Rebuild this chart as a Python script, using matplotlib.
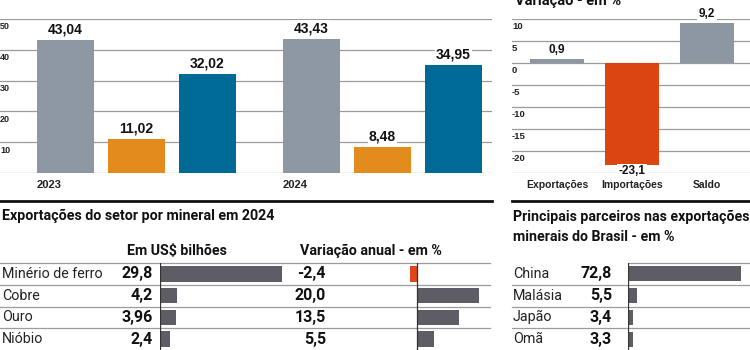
import matplotlib
matplotlib.use("Agg")
import matplotlib.pyplot as plt

# --- data ---
years = ["2023", "2024"]
exports_bi = [43.04, 43.43]
imports_bi = [11.02, 8.48]
balance_bi = [32.02, 34.95]
year_value_labels = [["43,04", "11,02", "32,02"], ["43,43", "8,48", "34,95"]]

change_cats = ["Exportações", "Importações", "Saldo"]
change_vals = [0.9, -23.1, 9.2]
change_labels = ["0,9", "-23,1", "9,2"]

minerals = ["Minério de ferro", "Cobre", "Ouro", "Nióbio"]
mineral_bi = [29.8, 4.2, 3.96, 2.4]
mineral_bi_labels = ["29,8", "4,2", "3,96", "2,4"]
mineral_var = [-2.4, 20.0, 13.5, 5.5]
mineral_var_labels = ["-2,4", "20,0", "13,5", "5,5"]

partners = ["China", "Malásia", "Japão", "Omã"]
partner_pct = [72.8, 5.5, 3.4, 3.3]
partner_labels = ["72,8", "5,5", "3,4", "3,3"]

# --- fonts ---
NARROW = ["Roboto", "DejaVu Sans"]
plt.rcParams["font.family"] = ["Liberation Sans", "DejaVu Sans"]

W, H = 750, 350
fig = plt.figure(figsize=(W / 100, H / 100), dpi=100)
fig.patch.set_facecolor("white")


def px_axes(x0, y0, x1, y1):
    # axes placed by pixel box (top-left origin)
    ax = fig.add_axes([x0 / W, 1 - y1 / H, (x1 - x0) / W, (y1 - y0) / H])
    ax.set_facecolor("none")
    for s in ax.spines.values():
        s.set_visible(False)
    ax.set_xticks([])
    ax.set_yticks([])
    return ax


GRID = "#9b9b9b"
BOX = dict(facecolor="white", edgecolor="none", pad=1.0)

# background axes in pixel coordinates for lines and texts
bg = fig.add_axes([0, 0, 1, 1], zorder=-1)
bg.set_xlim(0, W)
bg.set_ylim(H, 0)
bg.axis("off")

# ---------------- top-left: values in US$ bi ----------------
ax1 = px_axes(0, 19, 492, 173)
ax1.set_xlim(0, 492)
ax1.set_ylim(0, 50)
for t in range(0, 51, 10):
    ax1.axhline(t, color=GRID, lw=0.9, zorder=0)
    if t > 0:
        ax1.annotate(str(t), (0, t), xycoords=("axes fraction", "data"),
                     xytext=(0, -2.5), textcoords="offset points",
                     ha="left", va="top", fontsize=6.5, fontweight="bold",
                     color="#222")
colors1 = ["#8e97a4", "#e38b1d", "#006a96"]
bar_step, group_gap, first = 71, 246, 65.5
for g, yr in enumerate(years):
    vals = [exports_bi[g], imports_bi[g], balance_bi[g]]
    xs = [first + g * group_gap + i * bar_step for i in range(3)]
    ax1.bar(xs, vals, width=57, color=colors1, zorder=2)
    for x, v, lab in zip(xs, vals, year_value_labels[g]):
        ax1.annotate(lab, (x, v), xytext=(0, 2.5), textcoords="offset points",
                     ha="center", va="bottom", fontsize=10, fontweight="bold",
                     color="#111", bbox=BOX, zorder=3)
    ax1.annotate(yr, (xs[0] - 28.5, 0), xytext=(0, -5), textcoords="offset points",
                 ha="left", va="top", fontsize=8, fontweight="bold", color="#222",
                 annotation_clip=False)

# ---------------- top-right: change in % ----------------
bg.text(515, 5, "Variação - em %", fontsize=10.5, fontweight="bold",
        family=NARROW, ha="left", va="baseline", color="#111")
ax2 = px_axes(512, 19, 750, 173)
ax2.set_xlim(-0.6, 2.573)
ax2.set_ylim(-25, 10)
for t in range(10, -26, -5):
    ax2.axhline(t, color=GRID, lw=0.9, zorder=0)
    if t > -25:
        ax2.annotate(str(t), (0, t), xycoords=("axes fraction", "data"),
                     xytext=(0, -2.5), textcoords="offset points",
                     ha="left", va="top", fontsize=6.8, fontweight="bold",
                     color="#222")
colors2 = ["#8d96a3" if v >= 0 else "#db4512" for v in change_vals]
xs2 = list(range(len(change_cats)))
ax2.bar(xs2, change_vals, width=0.72, color=colors2, zorder=2)
for x, v, lab, cat in zip(xs2, change_vals, change_labels, change_cats):
    if v >= 0:
        ax2.annotate(lab, (x, v), xytext=(0, 2), textcoords="offset points",
                     ha="center", va="bottom", fontsize=8.5, fontweight="bold",
                     color="#111", bbox=BOX, zorder=3)
    else:
        ax2.annotate(lab, (x, v), xytext=(0, -0.5), textcoords="offset points",
                     ha="center", va="top", fontsize=8.5, fontweight="bold",
                     color="#111", bbox=BOX, zorder=3)
    ax2.annotate(cat, (x, -25), xytext=(0, -5), textcoords="offset points",
                 ha="center", va="top", fontsize=7.5, fontweight="bold",
                 color="#222", annotation_clip=False)

# ---------------- bottom-left: exports by mineral ----------------
row_top, row_h = 263, 21.75
bg.plot([0, 492], [201, 201], color="#111", lw=2)
bg.plot([512, 750], [201, 201], color="#111", lw=2)
bg.text(2, 216, "Exportações do setor por mineral em 2024", fontsize=10.3,
        fontweight="bold", family=NARROW, ha="left", va="center", color="#111")
bg.text(127, 251, "Em US$ bilhões", fontsize=10.2, fontweight="bold",
        family=NARROW, ha="left", va="center", color="#111")
bg.text(300, 251, "Variação anual - em %", fontsize=10.3, fontweight="bold",
        family=NARROW, ha="left", va="center", color="#111")
for i in range(len(minerals)):
    y = row_top + i * row_h
    bg.plot([0, 490], [y, y], color=GRID, lw=0.9)
for i, (n, lab, vlab) in enumerate(zip(minerals, mineral_bi_labels, mineral_var_labels)):
    yc = row_top + (i + 0.5) * row_h
    bg.text(2, yc, n, fontsize=10.3, family=NARROW,
            ha="left", va="center", color="#222")
    bg.text(153, yc, lab, fontsize=11.5, fontweight="bold",
            family=NARROW, ha="right", va="center", color="#111")
    bg.text(326, yc, vlab, fontsize=11.5, fontweight="bold",
            family=NARROW, ha="right", va="center", color="#111")

ax3 = px_axes(160, row_top, 300, 350)
ax3.set_xlim(0, 140 / 4.1)
ax3.set_ylim(4, 0)
ax3.barh([i + 0.5 for i in range(4)], mineral_bi, height=0.72, color="#5e5c64")
ax3.axvline(0, color="#333", lw=0.9)

ax4 = px_axes(330, row_top, 490, 350)
ax4.set_xlim(-87 / 3.1, 73 / 3.1)
ax4.set_ylim(4, 0)
ax4.barh([i + 0.5 for i in range(4)], mineral_var, height=0.72,
         color=["#e0461a" if v < 0 else "#5e5c64" for v in mineral_var])
ax4.axvline(0, color="#333", lw=0.9)

# ---------------- bottom-right: partners ----------------
bg.text(513, 217, "Principais parceiros nas exportações", fontsize=10.2,
        fontweight="bold", family=NARROW, ha="left", va="center", color="#111")
bg.text(513, 237, "minerais do Brasil - em %", fontsize=10.2,
        fontweight="bold", family=NARROW, ha="left", va="center", color="#111")
bg.plot([628, 750], [row_top, row_top], color=GRID, lw=0.9)
for i in range(1, len(partners)):
    y = row_top + i * row_h
    bg.plot([512, 750], [y, y], color=GRID, lw=0.9)
for i, (n, lab) in enumerate(zip(partners, partner_labels)):
    yc = row_top + (i + 0.5) * row_h
    bg.text(513, yc, n, fontsize=10.3, family=NARROW,
            ha="left", va="center", color="#222")
    bg.text(612, yc, lab, fontsize=11.5, fontweight="bold",
            family=NARROW, ha="right", va="center", color="#111")

ax5 = px_axes(628, row_top, 750, 350)
ax5.set_xlim(0, 122 / 1.55)
ax5.set_ylim(4, 0)
ax5.barh([i + 0.5 for i in range(4)], partner_pct, height=0.7, color="#5e5c64")
ax5.axvline(0, color="#333", lw=0.9)

fig.savefig("out.png", dpi=100, facecolor="white")
